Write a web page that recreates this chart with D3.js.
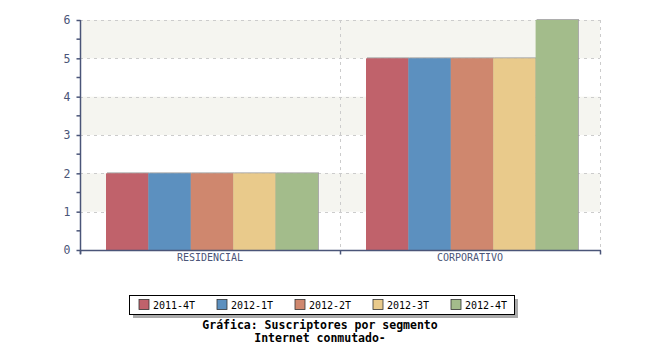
<!DOCTYPE html>
<html><head><meta charset="utf-8">
<script src="https://d3js.org/d3.v7.min.js"></script>
<style>body{margin:0;background:#fff}svg{display:block}</style>
</head><body>
<script>
const categories = ["RESIDENCIAL", "CORPORATIVO"];
const series = ["2011-4T", "2012-1T", "2012-2T", "2012-3T", "2012-4T"];
const values = {
  "2011-4T": [2, 5],
  "2012-1T": [2, 5],
  "2012-2T": [2, 5],
  "2012-3T": [2, 5],
  "2012-4T": [2, 6]
};
const colors = ["#c0626b", "#5c90bf", "#cf876e", "#e9ca8b", "#a3bc8b"];
const yTicks = [0, 1, 2, 3, 4, 5, 6];
const titleLines = ["Gráfica: Suscriptores por segmento", "Internet conmutado-"];

const W = 650, H = 350;
const L = 80, R = 600, T = 20, B = 250;
const axisColor = "#4a5578";
const font = "'DejaVu Sans Mono', 'Liberation Mono', monospace";

const svg = d3.select("body").append("svg").attr("width", W).attr("height", H);

const y = d3.scaleLinear().domain([0, 6]).range([B, T]);
const x = d3.scaleBand().domain(categories).range([L, R]).padding(0);
const xs = d3.scaleBand().domain(series).range([26, 238]).padding(0);

// bands
const bandStarts = [1, 3, 5];
svg.selectAll("rect.band").data(bandStarts).enter().append("rect")
  .attr("x", L).attr("width", R - L)
  .attr("y", d => y(d + 1)).attr("height", d => y(d) - y(d + 1))
  .attr("fill", "#f5f5f0");

// horizontal grid
svg.selectAll("line.hg").data(yTicks.filter(d => d > 0)).enter().append("line")
  .attr("x1", L).attr("x2", R)
  .attr("y1", d => Math.round(y(d)) + 0.5).attr("y2", d => Math.round(y(d)) + 0.5)
  .attr("stroke", "#cccccc").attr("stroke-dasharray", "3,4");

// vertical grid
const vgrid = [x(categories[1]), R];
svg.selectAll("line.vg").data(vgrid).enter().append("line")
  .attr("x1", d => d + 0.5).attr("x2", d => d + 0.5)
  .attr("y1", T).attr("y2", B)
  .attr("stroke", "#cccccc").attr("stroke-dasharray", "3,4");

// bars
const barData = [];
categories.forEach((c, ci) => series.forEach((s, si) => barData.push({c, s, si, v: values[s][ci]})));
const g = svg.append("g");
g.selectAll("rect.shadow").data(barData).enter().append("rect")
  .attr("x", d => x(d.c) + xs(d.s) + 1)
  .attr("y", d => y(d.v) - 1)
  .attr("width", xs.bandwidth())
  .attr("height", d => B - y(d.v) + 1)
  .attr("fill", "#999999").attr("opacity", 0.8);
g.selectAll("rect.bar").data(barData).enter().append("rect")
  .attr("x", d => x(d.c) + xs(d.s))
  .attr("y", d => y(d.v))
  .attr("width", xs.bandwidth())
  .attr("height", d => B - y(d.v))
  .attr("fill", d => colors[d.si]);

// y axis
const yAxis = d3.axisLeft(y).tickValues(yTicks).tickSize(4).tickFormat(d3.format("d"));
const ya = svg.append("g").attr("transform", `translate(${L + 0.5},0)`).call(yAxis);
ya.select(".domain").attr("d", `M0,${T}V${B + 4}`);
ya.selectAll("line").attr("stroke", axisColor).attr("stroke-width", 1.5);
ya.select(".domain").attr("stroke", axisColor).attr("stroke-width", 1.5);
ya.selectAll("text").attr("font-family", font).attr("font-size", 11.5).attr("fill", axisColor).attr("x", -10);
// minor ticks
const minor = d3.range(0.5, 6, 1);
ya.selectAll("line.minor").data(minor).enter().append("line")
  .attr("x1", -4).attr("x2", 0).attr("y1", d => y(d)).attr("y2", d => y(d))
  .attr("stroke", axisColor).attr("stroke-width", 1.5);

// x axis
const xa = svg.append("g").attr("transform", `translate(0,${B + 0.5})`);
xa.append("line").attr("x1", L).attr("x2", R + 1).attr("stroke", axisColor).attr("stroke-width", 1.5);
const xTickPos = [L, x(categories[1]), R];
xa.selectAll("line.t").data(xTickPos).enter().append("line")
  .attr("x1", d => d + 0.5).attr("x2", d => d + 0.5).attr("y1", 0).attr("y2", 4)
  .attr("stroke", axisColor).attr("stroke-width", 1.5);
xa.selectAll("text").data(categories).enter().append("text")
  .attr("x", d => x(d) + x.bandwidth() / 2).attr("y", 10)
  .attr("text-anchor", "middle").attr("font-family", font).attr("font-size", 10)
  .attr("fill", axisColor).text(d => d);

// legend
const lg = svg.append("g");
const lx = 129, ly = 295, lw = 385, lh = 19;
lg.append("rect").attr("x", lx + 4).attr("y", ly + 4).attr("width", lw).attr("height", lh).attr("fill", "#aaaaaa");
lg.append("rect").attr("x", lx + 0.5).attr("y", ly + 0.5).attr("width", lw).attr("height", lh)
  .attr("fill", "#fff").attr("stroke", "#000").attr("stroke-width", 1);
const items = lg.selectAll("g.item").data(series).enter().append("g")
  .attr("transform", (d, i) => `translate(${139 + i * 78},${ly + 4.5})`);
items.append("rect").attr("width", 10).attr("height", 10)
  .attr("fill", (d, i) => colors[i]).attr("stroke", "#333").attr("stroke-width", 0.8);
items.append("text").attr("x", 14).attr("y", 9).attr("font-family", font).attr("font-size", 10)
  .attr("fill", "#000").text(d => d);

// title
svg.selectAll("text.title").data(titleLines).enter().append("text")
  .attr("x", 320).attr("y", (d, i) => 329 + i * 13)
  .attr("text-anchor", "middle").attr("font-family", font).attr("font-size", 11.5)
  .attr("font-weight", "bold").attr("fill", "#000").text(d => d);
</script>
</body></html>
